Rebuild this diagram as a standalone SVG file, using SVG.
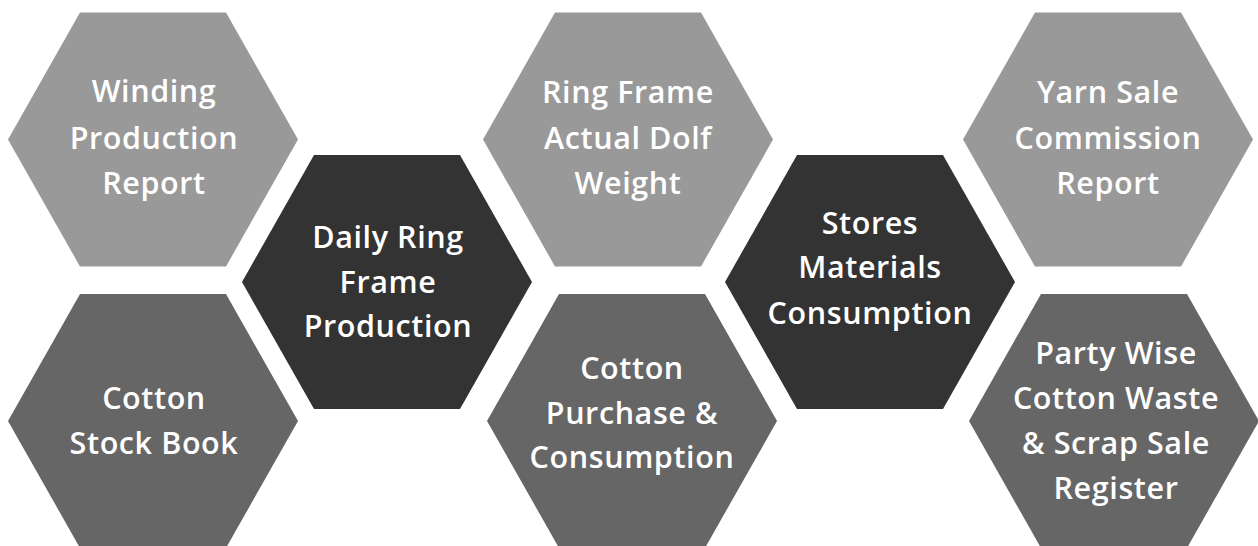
<svg xmlns="http://www.w3.org/2000/svg" width="1258" height="546" viewBox="0 0 1258 546">
  <defs>
    <style>
      .hex { stroke: none; }
      .light { fill: #999999; }
      .mid { fill: #666666; }
      .dark { fill: #333333; }
      .label { fill: #ffffff; font-family: "Open Sans", "Noto Sans", "Liberation Sans", sans-serif; font-weight: 600; font-size: 30.5px; letter-spacing: 0.6px; text-anchor: middle; }
    </style>
    <polygon id="hexshape" points="-145,0 -73,-127 73,-127 145,0 73,127 -73,127"/>
  </defs>
  <rect width="1258" height="546" fill="#ffffff"/>
  <g id="connectors"></g>
  <g id="node-winding">
    <use href="#hexshape" class="hex light" transform="translate(153,139.5)"/>
    <text class="label"><tspan x="154" y="102">Winding</tspan><tspan x="154" y="149">Production</tspan><tspan x="154" y="194">Report</tspan></text>
  </g>
  <g id="node-cotton-stock">
    <use href="#hexshape" class="hex mid" transform="translate(153,421)"/>
    <text class="label"><tspan x="154" y="409">Cotton</tspan><tspan x="154" y="454">Stock Book</tspan></text>
  </g>
  <g id="node-daily-ring">
    <use href="#hexshape" class="hex dark" transform="translate(387,282)"/>
    <text class="label"><tspan x="388" y="248">Daily Ring</tspan><tspan x="388" y="293">Frame</tspan><tspan x="388" y="337">Production</tspan></text>
  </g>
  <g id="node-ring-frame">
    <use href="#hexshape" class="hex light" transform="translate(628,139.5)"/>
    <text class="label"><tspan x="628" y="103">Ring Frame</tspan><tspan x="628" y="149">Actual Dolf</tspan><tspan x="628" y="194">Weight</tspan></text>
  </g>
  <g id="node-cotton-purchase">
    <use href="#hexshape" class="hex mid" transform="translate(632,421)"/>
    <text class="label"><tspan x="632" y="379">Cotton</tspan><tspan x="632" y="424">Purchase &amp;</tspan><tspan x="632" y="468">Consumption</tspan></text>
  </g>
  <g id="node-stores">
    <use href="#hexshape" class="hex dark" transform="translate(870,282)"/>
    <text class="label"><tspan x="870" y="234">Stores</tspan><tspan x="870" y="278">Materials</tspan><tspan x="870" y="324">Consumption</tspan></text>
  </g>
  <g id="node-yarn-sale">
    <use href="#hexshape" class="hex light" transform="translate(1108,139.5)"/>
    <text class="label"><tspan x="1108" y="103">Yarn Sale</tspan><tspan x="1108" y="149">Commission</tspan><tspan x="1108" y="194">Report</tspan></text>
  </g>
  <g id="node-party-wise">
    <use href="#hexshape" class="hex mid" transform="translate(1114,421)"/>
    <text class="label"><tspan x="1116" y="364">Party Wise</tspan><tspan x="1116" y="409">Cotton Waste</tspan><tspan x="1116" y="454">&amp; Scrap Sale</tspan><tspan x="1116" y="499">Register</tspan></text>
  </g>
</svg>
